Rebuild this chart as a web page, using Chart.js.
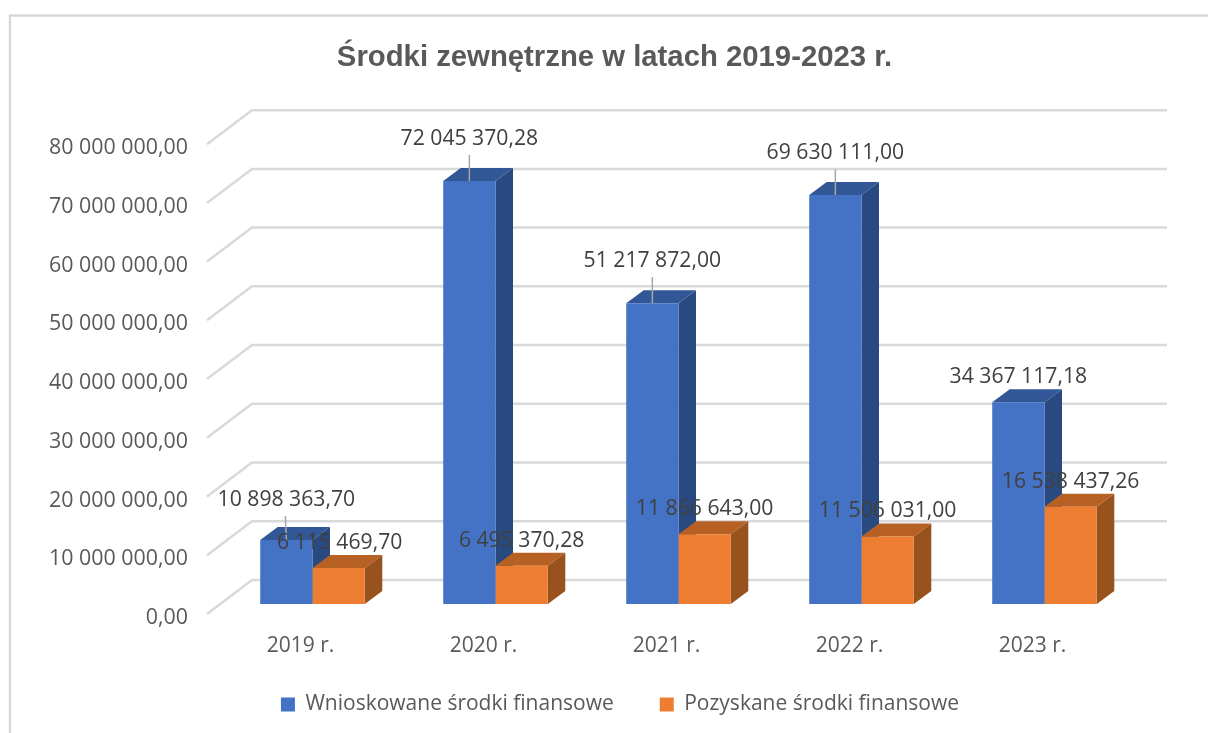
<!DOCTYPE html>
<html lang="pl">
<head>
<meta charset="utf-8">
<style>html,body{margin:0;padding:0;background:#fff}#wrap{width:1208px;height:733px;position:relative}</style>
<script src="https://cdn.jsdelivr.net/npm/chart.js@4/dist/chart.umd.min.js"></script>
</head>
<body>
<div id="wrap"><canvas id="c" width="1208" height="733"></canvas></div>
<script>
const chartTitle = 'Środki zewnętrzne w latach 2019-2023 r.';
const categories = ['2019 r.', '2020 r.', '2021 r.', '2022 r.', '2023 r.'];
const requested = [10898363.70, 72045370.28, 51217872.00, 69630111.00, 34367117.18];
const obtained = [6115469.70, 6495370.28, 11866643.00, 11506031.00, 16538437.26];
const requestedName = 'Wnioskowane środki finansowe';
const obtainedName = 'Pozyskane środki finansowe';

const FONT = '"Open Sans", sans-serif';
const fmt = v => {
  const [a, b] = v.toFixed(2).split('.');
  return a.replace(/\B(?=(\d{3})+(?!\d))/g, ' ') + ',' + b;
};
const faces = [
  {top: '#325797', side: '#294a80'},
  {top: '#b66024', side: '#97521e'}
];
const leaders = [true, true, true, true, false];

const plugin3d = {
  id: 'plugin3d',
  afterLayout(chart) {
    const shift = (box, d) => { box.left += d; box.right += d; };
    shift(chart.titleBlock, 46.5);
    shift(chart.legend, 52);
    chart.scales.x.bottom += 30;
  },
  beforeDraw(chart) {
    const c = chart.ctx;
    c.save();
    c.strokeStyle = '#d9d9d9';
    c.lineWidth = 2.5;
    c.beginPath();
    c.moveTo(1208, 15.5); c.lineTo(10, 15.5); c.lineTo(10, 733);
    c.stroke();
    c.restore();
  },
  beforeDatasetsDraw(chart) {
    const c = chart.ctx, y = chart.scales.y, a = chart.chartArea;
    c.save();
    c.strokeStyle = '#d9d9d9';
    c.lineWidth = 2.5;
    y.ticks.forEach(t => {
      const p = y.getPixelForValue(t.value);
      c.beginPath();
      c.moveTo(a.left - 14, p + 10);
      c.lineTo(a.left + 31, p - 24);
      c.lineTo(a.right + 31, p - 24);
      c.stroke();
    });
    const dx = 17.5, dy = -13;
    chart.data.datasets.forEach((ds, i) => {
      chart.getDatasetMeta(i).data.forEach(b => {
        const l = b.x - b.width / 2, r = b.x + b.width / 2, t = b.y, B = b.base;
        c.fillStyle = faces[i].side;
        c.beginPath();
        c.moveTo(r, t); c.lineTo(r + dx, t + dy); c.lineTo(r + dx, B + dy); c.lineTo(r, B);
        c.closePath(); c.fill();
        c.fillStyle = faces[i].top;
        c.beginPath();
        c.moveTo(l, t); c.lineTo(l + dx, t + dy); c.lineTo(r + dx, t + dy); c.lineTo(r, t);
        c.closePath(); c.fill();
      });
    });
    c.restore();
  },
  afterDatasetsDraw(chart) {
    const c = chart.ctx;
    c.save();
    c.font = '21.2px ' + FONT;
    c.textAlign = 'center';
    c.textBaseline = 'middle';
    chart.data.datasets.forEach((ds, i) => {
      chart.getDatasetMeta(i).data.forEach((b, j) => {
        const lead = i === 0 && leaders[j];
        const lift = lead ? (j === 0 ? 40 : 42) : 25;
        if (lead) {
          c.strokeStyle = '#a6a6a6';
          c.lineWidth = 1.5;
          c.beginPath();
          c.moveTo(b.x, b.y);
          c.lineTo(b.x - (j === 0 ? 1 : 0), b.y - (j === 0 ? 24 : 26));
          c.stroke();
        }
        c.fillStyle = '#404040';
        const xoff = (i === 1 && j === 0) ? 1 : 0;
        c.fillText(fmt(ds.data[j]), b.x + xoff, b.y - lift);
      });
    });
    c.restore();
  }
};

new Chart(document.getElementById('c'), {
  type: 'bar',
  data: {
    labels: categories,
    datasets: [
      {label: requestedName, data: requested, backgroundColor: '#4472c4', borderWidth: 0},
      {label: obtainedName, data: obtained, backgroundColor: '#ed7d31', borderWidth: 0}
    ]
  },
  plugins: [plugin3d],
  options: {
    responsive: false,
    animation: false,
    layout: {padding: {left: 0, right: 72, top: 0, bottom: 8}},
    datasets: {bar: {categoryPercentage: 0.5714, barPercentage: 1}},
    plugins: {
      tooltip: {enabled: false},
      title: {
        display: true,
        text: chartTitle,
        color: '#595959',
        font: {family: '"Liberation Sans", Arial, sans-serif', size: 29.3, weight: 'bold'},
        padding: {top: 40, bottom: 59}
      },
      legend: {
        position: 'bottom',
        labels: {
          boxWidth: 14, boxHeight: 14, padding: 46,
          color: '#595959',
          font: {family: FONT, size: 21}
        }
      }
    },
    scales: {
      x: {
        grid: {display: false, drawTicks: false},
        border: {display: false},
        ticks: {
          color: '#595959', padding: 29, labelOffset: -12, maxRotation: 0,
          font: {family: FONT, size: 21}
        },
        afterFit(s) { s.height = 44; }
      },
      y: {
        min: 0, max: 80000000,
        grid: {display: false, drawTicks: false},
        border: {display: false},
        ticks: {
          stepSize: 10000000,
          color: '#595959', padding: 33, labelOffset: 14,
          font: {family: FONT, size: 21.4},
          callback: v => fmt(v)
        },
        afterFit(s) { s.width = 221; }
      }
    }
  }
});
</script>
</body>
</html>
